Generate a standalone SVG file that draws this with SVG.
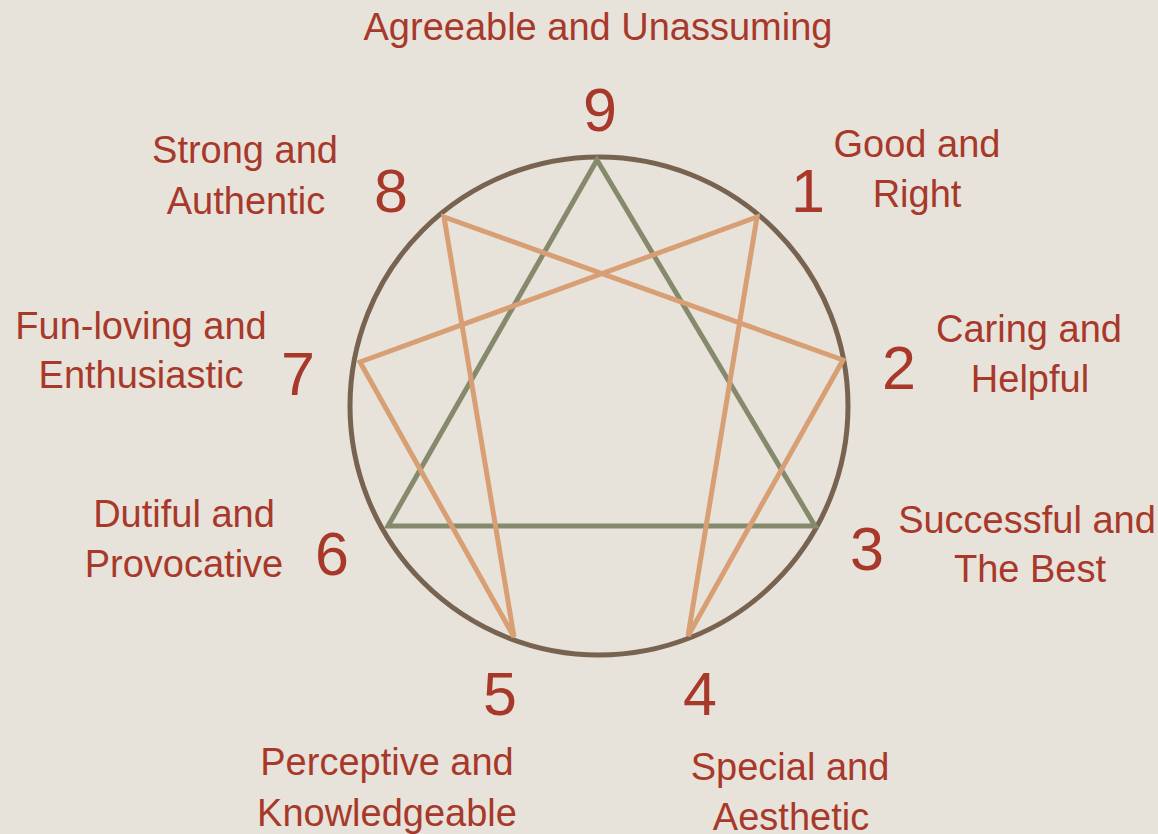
<svg xmlns="http://www.w3.org/2000/svg" width="1158" height="834" viewBox="0 0 1158 834">
<style>
.lbl{font-family:"Liberation Sans",Arial,sans-serif;font-size:38px;fill:#a8392a;text-anchor:middle}
.num{font-family:"Liberation Sans",Arial,sans-serif;font-size:61px;fill:#a8392a;text-anchor:middle}
.tri{fill:none;stroke:#868a6c;stroke-width:5;stroke-linejoin:miter}
.hex{fill:none;stroke:#d89e74;stroke-width:5;stroke-linejoin:miter}
.ring{fill:none;stroke:#77634f;stroke-width:5}
</style>
<rect width="1158" height="834" fill="#e7e3da"/>
<g id="ring"><circle class="ring" cx="599" cy="406" r="249"/></g>
<g id="connectors">
<polygon class="tri" points="597,160 815,526 388,526"/>
<polygon class="hex" points="757,217 688,636 843,360 444,217 514,637 360,362"/>
</g>
<g id="n9"><text class="num" x="600" y="131">9</text><text class="lbl" x="598" y="40">Agreeable and Unassuming</text></g>
<g id="n1"><text class="num" x="808" y="212">1</text><text class="lbl" x="917" y="157">Good and</text><text class="lbl" x="917" y="207">Right</text></g>
<g id="n2"><text class="num" x="899" y="389">2</text><text class="lbl" x="1029" y="342">Caring and</text><text class="lbl" x="1030" y="392">Helpful</text></g>
<g id="n3"><text class="num" x="867" y="570">3</text><text class="lbl" x="1027" y="533">Successful and</text><text class="lbl" x="1030" y="582">The Best</text></g>
<g id="n4"><text class="num" x="700" y="715">4</text><text class="lbl" x="790" y="780">Special and</text><text class="lbl" x="791" y="830">Aesthetic</text></g>
<g id="n5"><text class="num" x="500" y="715">5</text><text class="lbl" x="387" y="775">Perceptive and</text><text class="lbl" x="387" y="826">Knowledgeable</text></g>
<g id="n6"><text class="num" x="332" y="575">6</text><text class="lbl" x="184" y="527">Dutiful and</text><text class="lbl" x="184" y="577">Provocative</text></g>
<g id="n7"><text class="num" x="298" y="395">7</text><text class="lbl" x="141" y="339">Fun-loving and</text><text class="lbl" x="141" y="388">Enthusiastic</text></g>
<g id="n8"><text class="num" x="391" y="212">8</text><text class="lbl" x="245" y="163">Strong and</text><text class="lbl" x="246" y="214">Authentic</text></g>
</svg>
